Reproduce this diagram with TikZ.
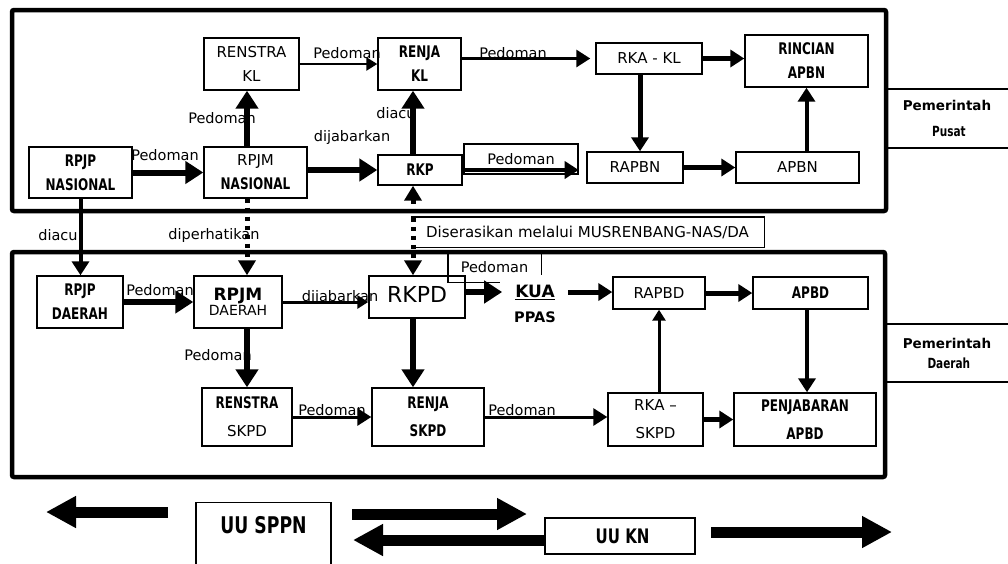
\documentclass[tikz,border=0pt]{standalone}
\usepackage{fontspec}
\setmainfont{DejaVu Sans}
\newfontfamily\condfont[FakeStretch=0.75]{DejaVu Sans}
\usetikzlibrary{arrows.meta}
\newcommand{\cbf}[1][16]{\condfont\bfseries\fontsize{#1}{24}\selectfont}

\begin{document}
\begin{tikzpicture}
  [x=1pt,y=-1pt,
   docbox/.style 2 args={draw,line width=1.4pt,minimum width=#1pt,minimum height=#2pt,
     inner sep=0pt,align=center,font=\fontsize{15}{24}\selectfont},
   lbl/.style={inner sep=0pt,font=\fontsize{14.5}{17}\selectfont},
   frame/.style={line width=4.5pt,rounded corners=2pt},
   bigarrow/.style={line width=6pt,-{Triangle[width=22pt,length=18pt]}},
   midarrow/.style={line width=4pt,-{Triangle[width=17pt,length=14pt]}},
   slimarrow/.style={line width=2.5pt,-{Triangle[width=13pt,length=11pt]}},
   dotarrow/.style={line width=5pt,dash pattern=on 4pt off 5pt,-{Triangle[width=17pt,length=15pt]}},
   blockarrow/.style={line width=11pt,-{Triangle[width=30pt,length=30pt]}}]

  \useasboundingbox (0,0) rectangle (1008,563);

  % frames
  \draw[frame] (12,10) rectangle (886,211);
  \draw[frame] (12,252) rectangle (885,477);

  \node[minimum width=122pt,minimum height=59pt,inner sep=0pt,align=center,
    font=\bfseries\fontsize{13.5}{26}\selectfont] (pusat) at (947,118.5)
    {Pemerintah\\{\cbf[14] Pusat}};
  \draw[line width=2.5pt] (pusat.north west) -- (pusat.north east)
    (pusat.south west) -- (pusat.south east);
  \node[minimum width=122pt,minimum height=58pt,inner sep=0pt,align=center,
    font=\bfseries\fontsize{13.5}{20}\selectfont] (daerah) at (947,353)
    {Pemerintah\\{\cbf[14] Daerah}};
  \draw[line width=2.5pt] (daerah.north west) -- (daerah.north east)
    (daerah.south west) -- (daerah.south east);

  % pusat
  \node[docbox={103}{51}] (rpjpnas) at (80.5,172.5) {{\cbf RPJP}\\{\cbf NASIONAL}};
  \node[docbox={103}{51}] (rpjmnas) at (255.5,172.5) {RPJM\\{\cbf NASIONAL}};
  \node[docbox={95}{52}] (renstrakl) at (251.5,64) {RENSTRA\\KL};
  \node[docbox={83}{52}] (renjakl) at (419.5,64) {{\cbf RENJA}\\{\cbf KL}};
  \node[docbox={84}{30}] (rkp) at (420,170) {\cbf RKP};
  \node[docbox={114}{30},font=\fontsize{14.5}{17}\selectfont] (pedtop) at (521,159) {Pedoman};
  \node[docbox={106}{31}] (rkakl) at (649,58.5) {RKA - KL};
  \node[docbox={96}{31}] (rapbn) at (635,167.5) {RAPBN};
  \node[docbox={123}{52}] (rincian) at (806.5,61) {{\cbf RINCIAN}\\{\cbf APBN}};
  \node[docbox={123}{31}] (apbn) at (797.5,167.5) {APBN};

  % daerah
  \node[docbox={86}{52}] (rpjpda) at (80,302) {{\cbf RPJP}\\{\cbf DAERAH}};
  \node[docbox={88}{52}] (rpjmda) at (238,302)
    {{\bfseries\fontsize{17}{20}\selectfont RPJM}\\[-9pt]{\fontsize{14}{20}\selectfont DAERAH}};
  \node[docbox={96}{42}] (rkpd) at (417,297) {\raisebox{6pt}{\fontsize{22}{24}\selectfont RKPD}};
  \node[inner xsep=13pt,inner ysep=0pt,font=\bfseries\fontsize{17}{20}\selectfont] (kua) at (535,292) {\underline{KUA}};
  \node[inner sep=0pt,font=\bfseries\fontsize{14.5}{17}\selectfont] (ppas) at (535,317) {PPAS};
  \node[docbox={92}{32}] (rapbd) at (659,293) {RAPBD};
  \node[docbox={115}{32}] (apbd) at (810.5,293) {\cbf APBD};
  \node[docbox={90}{58}] (renstraskpd) at (247,417) {{\cbf RENSTRA}\\[4pt]SKPD};
  \node[docbox={112}{58}] (renjaskpd) at (428,417) {{\cbf RENJA}\\[4pt]{\cbf SKPD}};
  \node[docbox={95}{53}] (rkaskpd) at (655.5,419.5) {RKA –\\[4pt]SKPD};
  \node[docbox={142}{53}] (penjabaran) at (805,419.5) {{\cbf PENJABARAN}\\[4pt]{\cbf APBD}};

  \node[minimum width=353pt,minimum height=30pt,inner sep=0pt,font=\fontsize{15}{17}\selectfont]
    (serasi) at (587.5,232) {Diserasikan melalui MUSRENBANG-NAS/DA};
  \draw[line width=1.4pt] (serasi.north west) -- (serasi.north east)
    -- (serasi.south east) -- (serasi.south west);
  \node[minimum width=93pt,minimum height=30pt,inner sep=0pt,font=\fontsize{14.5}{17}\selectfont]
    (pedbot) at (494.5,267) {Pedoman};
  \draw[line width=1.4pt] (pedbot.north west) -- (pedbot.south west)
    -- ([xshift=52pt]pedbot.south west)
    (pedbot.north east) -- ([yshift=7pt]pedbot.south east);

  % labels
  \node[lbl] (pedA) at (165,155) {Pedoman};
  \node[lbl] (pedB) at (222,118) {Pedoman};
  \node[lbl] (jabA) at (352,137) {dijabarkan};
  \node[lbl] (acuA) at (396,113) {diacu};
  \node[lbl] (pedC) at (347,53) {Pedoman};
  \node[lbl] (pedD) at (513,53) {Pedoman};
  \node[lbl] (acuB) at (58,235) {diacu};
  \node[lbl] (perhati) at (214,235) {diperhatikan};
  \node[lbl] (pedE) at (160,290) {Pedoman};
  \node[lbl] (jabB) at (340,297) {dijabarkan};
  \node[lbl] (pedF) at (218,355) {Pedoman};
  \node[lbl] (pedG) at (332,410) {Pedoman};
  \node[lbl] (pedH) at (522,410) {Pedoman};

  % arrows pusat
  \draw[bigarrow] (rpjpnas) -- (rpjmnas);
  \draw[bigarrow] ([xshift=-8.5pt]rpjmnas.north) -- ([xshift=-8.5pt]rpjmnas.north |- renstrakl.south);
  \draw[bigarrow] (rpjmnas.east |- rkp) -- (rkp.west);
  \draw[bigarrow] ([xshift=-7pt]rkp.north) -- ([xshift=-7pt]rkp.north |- renjakl.south);
  \draw[slimarrow] (renstrakl) -- (renjakl);
  \draw[midarrow,line width=3pt] (renjakl.east |- rkakl) -- ([xshift=-5pt]rkakl.west);
  \draw[midarrow] (rkp.east) -- (pedtop.east |- rkp.east);
  \draw[midarrow,line width=5pt] ([xshift=-9pt]rkakl.south) -- ([xshift=-9pt]rkakl.south |- rapbn.north);
  \draw[midarrow,line width=5pt] (rkakl.east) -- (rkakl.east -| rincian.west);
  \draw[midarrow,line width=5pt] (rapbn) -- (apbn);
  \draw[midarrow] (rincian.south |- apbn.north) -- (rincian.south);

  % arrows pusat ke daerah
  \draw[midarrow] (rpjpnas.south) -- (rpjpnas.south |- rpjpda.north);
  \draw[dotarrow] ([xshift=-8.5pt]rpjmnas.south) -- ([xshift=-8.5pt]rpjmnas.south |- rpjmda.north);
  \draw[dotarrow,{Triangle[width=17pt,length=15pt]}-{Triangle[width=17pt,length=15pt]}]
    ([xshift=-7pt]rkp.south) -- ([xshift=-7pt]rkp.south |- rkpd.north);

  % arrows daerah
  \draw[bigarrow] (rpjpda) -- (rpjmda);
  \draw[slimarrow,line width=3pt] (rpjmda.east) -- (rpjmda.east -| rkpd.west);
  \draw[bigarrow] (renstraskpd.north |- rpjmda.south) -- (renstraskpd.north);
  \draw[bigarrow] (rkpd.east |- kua) -- (kua.west);
  \draw[bigarrow] ([xshift=-4pt]rkpd.south) -- ([xshift=-4pt]rkpd.south |- renjaskpd.north);
  \draw[midarrow,line width=5pt] (kua.east) -- (kua.east -| rapbd.west);
  \draw[midarrow,line width=5pt] (rapbd) -- (apbd);
  \draw[slimarrow,line width=3pt] (rapbd.south |- rkaskpd.north) -- (rapbd.south);
  \draw[midarrow] ([xshift=-3.5pt]apbd.south) -- ([xshift=-3.5pt]apbd.south |- penjabaran.north);
  \draw[midarrow,line width=3pt] (renstraskpd) -- (renjaskpd);
  \draw[midarrow,line width=3pt] (renjaskpd.east) -- (renjaskpd.east -| rkaskpd.west);
  \draw[midarrow,line width=5pt] (rkaskpd) -- (penjabaran);

  % undang-undang
  \node[draw,line width=1.4pt,minimum width=135pt,minimum height=75pt,inner sep=0pt] (sppn) at (263.5,540) {};
  \node[inner sep=0pt,font={\cbf[23]}] (sppntext) at (263.5,525) {UU SPPN};
  \node[docbox={150}{36}] (uukn) at (620,536) {\cbf[20] UU KN};
  \coordinate (leftA) at (168,512);
  \coordinate (leftB) at (46,512);
  \coordinate (midA) at (352,514);
  \coordinate (midB) at (527,514);
  \coordinate (midC) at (353,540);
  \coordinate (rightA) at (711,532);
  \coordinate (rightB) at (892,532);
  \draw[blockarrow] (leftA) -- (leftB);
  \draw[blockarrow] (midA) -- (midB);
  \draw[blockarrow] (uukn.west |- midC) -- (midC);
  \draw[blockarrow] (rightA) -- (rightB);

\end{tikzpicture}
\end{document}
